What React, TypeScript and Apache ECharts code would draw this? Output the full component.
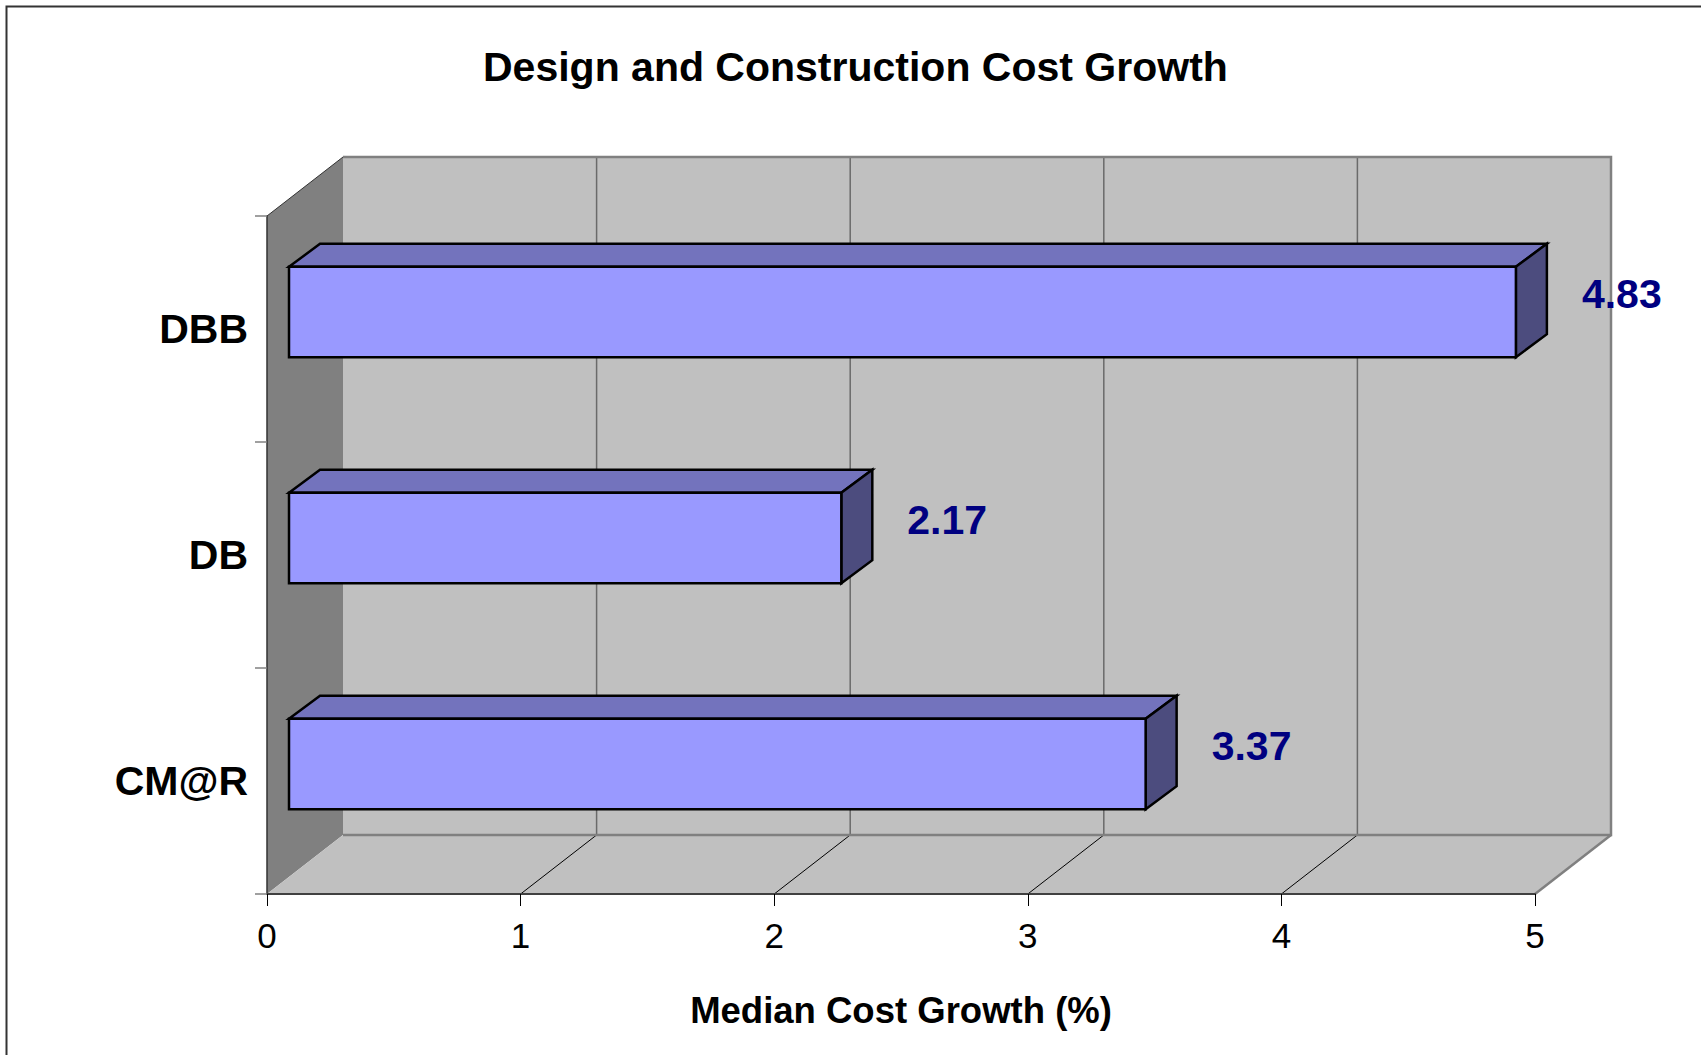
import React, { useEffect, useRef } from "react";
import * as echarts from "echarts";

const categories = ["CM@R", "DB", "DBB"];
const medianCostGrowth = [3.37, 2.17, 4.83];
const xTickValues = [0, 1, 2, 3, 4, 5];
const chartTitle = "Design and Construction Cost Growth";
const xAxisName = "Median Cost Growth (%)";

const FONT = "'Liberation Sans', Arial, Helvetica, sans-serif";
// oblique depth of the chart box
const DX = 76;
const DY = -59;
// bar front face offset and bar depth
const FX = 22;
const FY = -17;
const BX = 31;
const BY = -23;

export default function App() {
  const ref = useRef<HTMLDivElement>(null);

  useEffect(() => {
    if (!ref.current) return;
    const chart = echarts.init(ref.current, null, { renderer: "svg" });

    const wallsRender = (params: any, api: any) => {
      const cs = params.coordSys;
      const x0 = cs.x;
      const x1 = cs.x + cs.width;
      const y0 = cs.y;
      const y1 = cs.y + cs.height;
      const children: any[] = [];
      children.push({
        type: "polygon",
        shape: { points: [[x0 + DX, y0 + DY], [x1 + DX, y0 + DY], [x1 + DX, y1 + DY], [x0 + DX, y1 + DY]] },
        style: { fill: "#C0C0C0" },
      });
      children.push({
        type: "polygon",
        shape: { points: [[x0, y0], [x0 + DX, y0 + DY], [x0 + DX, y1 + DY], [x0, y1]] },
        style: { fill: "#808080" },
      });
      children.push({
        type: "polygon",
        shape: { points: [[x0, y1], [x0 + DX, y1 + DY], [x1 + DX, y1 + DY], [x1, y1]] },
        style: { fill: "#C0C0C0" },
      });
      xTickValues.forEach((v, i) => {
        if (i === 0 || i === xTickValues.length - 1) return;
        const tx = api.coord([v, 0])[0];
        children.push({
          type: "line",
          shape: { x1: tx + DX, y1: y0 + DY, x2: tx + DX, y2: y1 + DY },
          style: { stroke: "#6A6A6A", lineWidth: 1.5 },
        });
        children.push({
          type: "line",
          shape: { x1: tx, y1: y1, x2: tx + DX, y2: y1 + DY },
          style: { stroke: "#000", lineWidth: 1 },
        });
      });
      children.push({
        type: "polyline",
        shape: { points: [[x0 + DX, y0 + DY], [x1 + DX, y0 + DY], [x1 + DX, y1 + DY], [x0 + DX, y1 + DY]] },
        style: { stroke: "#808080", lineWidth: 2.5, fill: null },
      });
      children.push({
        type: "line",
        shape: { x1: x1, y1: y1, x2: x1 + DX, y2: y1 + DY },
        style: { stroke: "#808080", lineWidth: 2.5 },
      });
      children.push({
        type: "line",
        shape: { x1: x0, y1: y0, x2: x0 + DX, y2: y0 + DY },
        style: { stroke: "#333", lineWidth: 1 },
      });
      return { type: "group", children };
    };

    const barsRender = (params: any, api: any) => {
      const v = api.value(0);
      const c = api.value(1);
      const end = api.coord([v, c]);
      const start = api.coord([0, c]);
      const band = api.size([0, 1])[1];
      const h = band * 0.2;
      const xs = start[0] + FX;
      const xe = end[0] + FX + 2;
      const yt = end[1] + FY - h;
      const yb = end[1] + FY + h;
      const stroke = { stroke: "#000", lineWidth: 2.5, lineJoin: "miter" };
      return {
        type: "group",
        children: [
          {
            type: "polygon",
            shape: { points: [[xs, yt], [xs + BX, yt + BY], [xe + BX, yt + BY], [xe, yt]] },
            style: { fill: "#7373BD", ...stroke },
          },
          {
            type: "polygon",
            shape: { points: [[xe, yt], [xe + BX, yt + BY], [xe + BX, yb + BY], [xe, yb]] },
            style: { fill: "#4C4C7E", ...stroke },
          },
          {
            type: "polygon",
            shape: { points: [[xs, yt], [xe, yt], [xe, yb], [xs, yb]] },
            style: { fill: "#9999FF", ...stroke },
          },
          {
            type: "text",
            x: xe + BX + 35,
            y: end[1] - 35,
            style: {
              text: Number(v).toFixed(2),
              fill: "#000080",
              fontSize: 41,
              fontWeight: "bold",
              fontFamily: FONT,
              align: "left",
              verticalAlign: "middle",
            },
          },
        ],
      };
    };

    chart.setOption({
      animation: false,
      backgroundColor: "#ffffff",
      title: {
        text: chartTitle,
        left: 483,
        top: 46,
        padding: 0,
        textStyle: { fontSize: 41, fontWeight: "bold", color: "#000", fontFamily: FONT },
      },
      grid: {
        left: 267,
        top: 216,
        width: 1268,
        height: 678,
        containLabel: false,
        outerBoundsMode: "none",
      },
      xAxis: {
        type: "value",
        min: 0,
        max: 5,
        interval: 1,
        z: 3,
        axisLine: { show: true, lineStyle: { color: "#404040", width: 2 } },
        axisTick: { show: true, length: 12, lineStyle: { color: "#000", width: 1 } },
        axisLabel: { fontSize: 35, color: "#000", fontFamily: FONT, margin: 24 },
        splitLine: { show: false },
        name: xAxisName,
        nameLocation: "middle",
        nameGap: 98,
        nameTextStyle: { fontSize: 36.5, fontWeight: "bold", color: "#000", fontFamily: FONT },
      },
      yAxis: {
        type: "category",
        data: categories,
        z: 3,
        axisLine: { show: true, lineStyle: { color: "#333", width: 1.5 } },
        axisTick: { show: true, length: 12, lineStyle: { color: "#808080", width: 1.5 } },
        axisLabel: { fontSize: 41, fontWeight: "bold", color: "#000", fontFamily: FONT, margin: 19 },
        splitLine: { show: false },
      },
      graphic: [
        {
          type: "rect",
          shape: { x: 6.5, y: 6.5, width: 1720, height: 1080 },
          style: { fill: null, stroke: "#333", lineWidth: 2 },
          z: 10,
        },
      ],
      series: [
        {
          type: "custom",
          name: "walls",
          z: 1,
          silent: true,
          data: [[0, 0]],
          encode: { x: 0, y: 1 },
          renderItem: wallsRender,
        },
        {
          type: "custom",
          name: "Median cost growth",
          z: 2,
          data: medianCostGrowth.map((v, i) => [v, i]),
          encode: { x: 0, y: 1 },
          renderItem: barsRender,
        },
      ],
    });

    return () => chart.dispose();
  }, []);

  return (
    <div
      ref={ref}
      style={{ position: "absolute", left: 0, top: 0, width: 1701, height: 1055, background: "#fff" }}
    />
  );
}
